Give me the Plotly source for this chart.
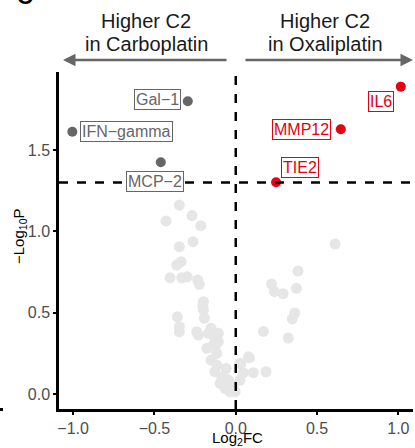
import plotly.graph_objects as go

# ---- data ----
grey_x = [-0.347, -0.429, -0.269, -0.215, -0.347, -0.263, -0.363, -0.336, -0.404, -0.332,
          -0.298, -0.234, -0.224, -0.199, -0.203, -0.199, -0.193, -0.359, -0.347, -0.347,
          -0.240, -0.230, -0.152, -0.141, -0.107, -0.107, -0.138, -0.178, -0.117, -0.152,
          -0.117, -0.129, -0.060, -0.066, -0.097, -0.035, -0.015, 0.026, 0.078, 0.611,
          0.383, 0.220, 0.238, 0.291, 0.373, 0.363, 0.348, 0.170, 0.323, 0.084,
          0.031, 0.108, 0.186, 0.047, 0.026, -0.015, -0.045, -0.004, -0.086, -0.045,
          -0.066, -0.035, -0.127, -0.168]
grey_y = [1.162, 1.064, 1.097, 1.035, 0.906, 0.937, 0.793, 0.814, 0.715, 0.715,
          0.721, 0.701, 0.675, 0.568, 0.540, 0.517, 0.466, 0.475, 0.414, 0.383,
          0.383, 0.363, 0.404, 0.363, 0.373, 0.322, 0.301, 0.281, 0.250, 0.209,
          0.178, 0.137, 0.158, 0.097, 0.066, 0.066, 0.025, 0.189, 0.229, 0.922,
          0.756, 0.676, 0.629, 0.617, 0.650, 0.498, 0.462, 0.385, 0.344, 0.223,
          0.184, 0.131, 0.137, 0.131, 0.086, 0.045, 0.025, 0.014, 0.106, 0.086,
          0.035, 0.014, 0.291, 0.373]

carbo_genes = ["Gal\u22121", "IFN\u2212gamma", "MCP\u22122"]
carbo_x = [-0.295, -1.005, -0.461]
carbo_y = [1.80, 1.613, 1.425]
carbo_label_x = [-0.484, -0.672, -0.499]
carbo_label_y = [1.808, 1.614, 1.307]

oxali_genes = ["IL6", "MMP12", "TIE2"]
oxali_x = [1.015, 0.646, 0.248]
oxali_y = [1.89, 1.628, 1.302]
oxali_label_x = [0.891, 0.405, 0.392]
oxali_label_y = [1.799, 1.627, 1.390]

p_threshold = 1.301
fc_threshold = 0.0

x_tickvals = [-1.0, -0.5, 0.0, 0.5, 1.0]
x_ticktext = ["\u22121.0", "\u22120.5", "0.0", "0.5", "1.0"]
y_tickvals = [0.0, 0.5, 1.0, 1.5]
y_ticktext = ["0.0", "0.5", "1.0", "1.5"]

GREY_PT = "#e6e6e6"
DARK = "#666666"
RED = "#e60012"
FONT = "Arial, Liberation Sans, sans-serif"

fig = go.Figure()
fig.add_trace(go.Scatter(x=grey_x, y=grey_y, mode="markers",
                         marker=dict(color=GREY_PT, size=11, line=dict(width=0)),
                         hoverinfo="skip", showlegend=False))
fig.add_trace(go.Scatter(x=carbo_x, y=carbo_y, mode="markers",
                         marker=dict(color=DARK, size=10, line=dict(width=0)),
                         showlegend=False))
fig.add_trace(go.Scatter(x=oxali_x, y=oxali_y, mode="markers",
                         marker=dict(color=RED, size=10, line=dict(width=0)),
                         showlegend=False))

# threshold lines
fig.add_shape(type="line", xref="paper", yref="y", x0=0, x1=1, y0=p_threshold, y1=p_threshold,
              line=dict(color="black", width=2.5, dash="dash"))
fig.add_shape(type="line", xref="x", yref="paper", x0=fc_threshold, x1=fc_threshold, y0=0, y1=1,
              line=dict(color="black", width=2.5, dash="dash"))

annotations = []
for g, lx, ly in zip(carbo_genes, carbo_label_x, carbo_label_y):
    annotations.append(dict(x=lx, y=ly, xref="x", yref="y", text=g, showarrow=False,
                            xanchor="center", yanchor="middle",
                            font=dict(family=FONT, size=16, color=DARK),
                            bordercolor=DARK, borderwidth=1, borderpad=1, bgcolor="white"))
for g, lx, ly in zip(oxali_genes, oxali_label_x, oxali_label_y):
    annotations.append(dict(x=lx, y=ly, xref="x", yref="y", text=g, showarrow=False,
                            xanchor="center", yanchor="middle",
                            font=dict(family=FONT, size=16, color=RED),
                            bordercolor=RED, borderwidth=1, borderpad=1, bgcolor="white"))

def px_x(p):
    return (p - 59) / 354.0

def px_y(p):
    return (409 - p) / 337.0

# direction arrows
annotations.append(dict(x=px_x(63), y=px_y(60), xref="paper", yref="paper", text="",
                        showarrow=True, ax=165, ay=0, axref="pixel", ayref="pixel",
                        arrowhead=2, arrowsize=1, arrowwidth=2.5, arrowcolor=DARK))
annotations.append(dict(x=px_x(413), y=px_y(60), xref="paper", yref="paper", text="",
                        showarrow=True, ax=-169, ay=0, axref="pixel", ayref="pixel",
                        arrowhead=2, arrowsize=1, arrowwidth=2.5, arrowcolor=DARK))
for cx, lines in ((146, ["Higher C2", "in Carboplatin"]), (325, ["Higher C2", "in Oxaliplatin"])):
    for ty, t in zip((21, 44), lines):
        annotations.append(dict(x=px_x(cx), y=px_y(ty), xref="paper", yref="paper",
                                xanchor="center", yanchor="middle", text=t, showarrow=False,
                                font=dict(family=FONT, size=20, color="#1a1a1a")))
annotations.append(dict(x=px_x(25), y=px_y(11), xref="paper", yref="paper",
                        xanchor="center", yanchor="bottom",
                        text="<b>C</b>", showarrow=False,
                        font=dict(family=FONT, size=22, color="black")))
# axis titles
annotations.append(dict(x=px_x(238), y=px_y(438), xref="paper", yref="paper",
                        xanchor="center", yanchor="middle", showarrow=False,
                        text="Log<sub>2</sub>FC", font=dict(family=FONT, size=15, color="black")))
annotations.append(dict(x=px_x(19), y=px_y(236), xref="paper", yref="paper",
                        xanchor="center", yanchor="middle", showarrow=False, textangle=-90,
                        text="\u2212Log<sub>10</sub>P", font=dict(family=FONT, size=15, color="black")))

fig.update_layout(
    width=415, height=448,
    margin=dict(l=59, r=2, t=72, b=39),
    paper_bgcolor="white", plot_bgcolor="white",
    font=dict(family=FONT),
    annotations=annotations,
    xaxis=dict(range=[-1.087, 1.09], tickvals=x_tickvals, ticktext=x_ticktext,
               showgrid=False, zeroline=False, showline=True, linecolor="black", linewidth=2.5,
               ticks="outside", ticklen=3, tickwidth=1.5, tickcolor="black",
               tickfont=dict(size=16, color="#4d4d4d", family=FONT)),
    yaxis=dict(range=[-0.092, 1.98], tickvals=y_tickvals, ticktext=y_ticktext,
               showgrid=False, zeroline=False, showline=True, linecolor="black", linewidth=2.5,
               ticks="outside", ticklen=3, tickwidth=1.5, tickcolor="black",
               tickfont=dict(size=16, color="#4d4d4d", family=FONT)),
    shapes=list(fig.layout.shapes) + [
        dict(type="rect", xref="paper", yref="paper", x0=px_x(0), x1=px_x(3),
             y0=px_y(411), y1=px_y(408), fillcolor="black", line=dict(width=0))
    ],
)

fig.write_html("out.html")
